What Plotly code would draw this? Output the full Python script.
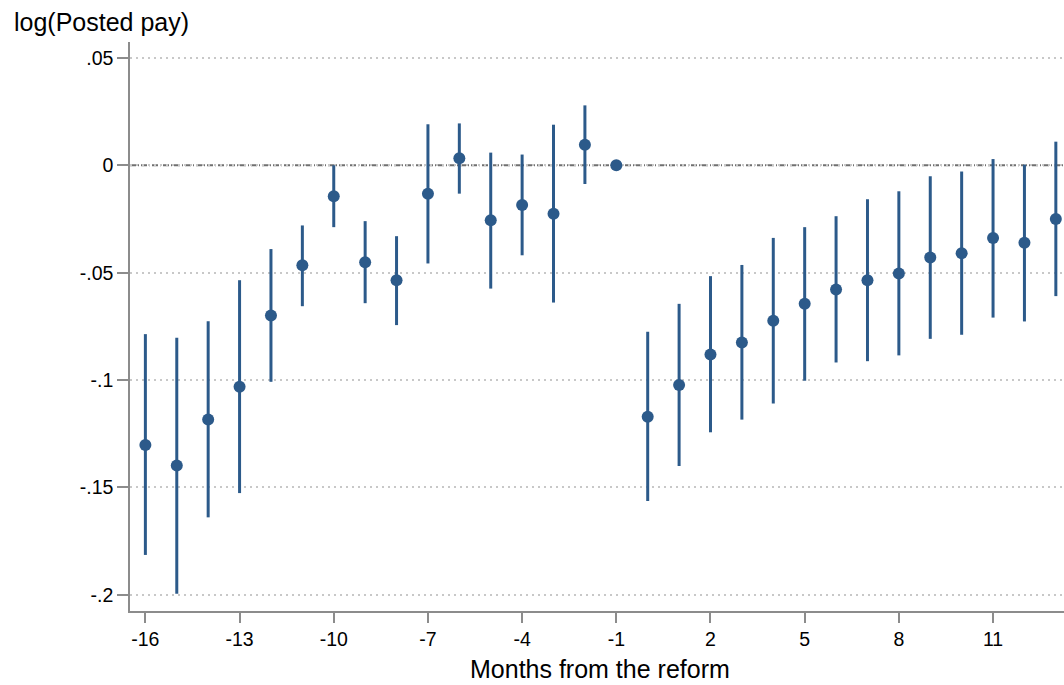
import numpy as np
import plotly.graph_objects as go

# Months relative to the reform
months = list(range(-16, 14))

# Point estimates
coef = [-0.1302, -0.1398, -0.1183, -0.1031, -0.0699, -0.0465, -0.0144, -0.0451,
        -0.0535, -0.0133, 0.0033, -0.0256, -0.0185, -0.0226, 0.0096, 0.0,
        -0.1171, -0.1023, -0.0881, -0.0825, -0.0724, -0.0645, -0.0578, -0.0535,
        -0.0504, -0.0429, -0.0409, -0.0338, -0.0361, -0.0250]

# Confidence interval bounds
ci_low = [-0.1814, -0.1995, -0.1639, -0.1526, -0.1008, -0.0656, -0.0288, -0.0642,
          -0.0744, -0.0457, -0.0132, -0.0574, -0.0419, -0.0639, -0.0087, 0.0,
          -0.1563, -0.1400, -0.1243, -0.1184, -0.1109, -0.1003, -0.0918, -0.0912,
          -0.0885, -0.0808, -0.0789, -0.0709, -0.0727, -0.0609]
ci_high = [-0.0786, -0.0803, -0.0726, -0.0535, -0.0390, -0.0280, 0.0000, -0.0260,
           -0.0330, 0.0191, 0.0195, 0.0059, 0.0050, 0.0189, 0.0279, 0.0,
           -0.0775, -0.0645, -0.0516, -0.0464, -0.0338, -0.0288, -0.0237, -0.0158,
           -0.0121, -0.0051, -0.0029, 0.0029, 0.0003, 0.0110]

x_tickvals = [-16, -13, -10, -7, -4, -1, 2, 5, 8, 11]
x_ticktext = ["-16", "-13", "-10", "-7", "-4", "-1", "2", "5", "8", "11"]
y_tickvals = [0.05, 0, -0.05, -0.1, -0.15, -0.2]
y_ticktext = [".05", "0", "-.05", "-.1", "-.15", "-.2"]

coef_a = np.array(coef)
plus = np.array(ci_high) - coef_a
minus = coef_a - np.array(ci_low)

COL = "#2c5a8a"
AX = "#8c8c8c"
FONT = "Liberation Sans, Arial, Helvetica, sans-serif"

fig = go.Figure()
fig.add_trace(go.Scatter(
    x=months, y=coef, mode="markers",
    marker=dict(color=COL, size=12, line=dict(width=0)),
    error_y=dict(type="data", symmetric=False, array=plus, arrayminus=minus,
                 color=COL, thickness=3, width=0),
    showlegend=False, cliponaxis=True,
))

fig.add_hline(y=0, line=dict(color="#707070", width=2, dash="6px,2px,1px,2px"),
              layer="below")

fig.update_layout(
    width=1064, height=685,
    margin=dict(l=130, r=0, t=42, b=74),
    paper_bgcolor="white", plot_bgcolor="white",
    font=dict(family=FONT, color="black", size=19),
    xaxis=dict(
        range=[-16.49, 13.26], tickvals=x_tickvals, ticktext=x_ticktext,
        showgrid=False, zeroline=False,
        showline=True, linecolor=AX, linewidth=1.5,
        ticks="outside", ticklen=10, tickcolor=AX, tickwidth=1.5,
        tickfont=dict(size=19.5, family=FONT),
    ),
    yaxis=dict(
        range=[-0.2075, 0.0574], tickvals=y_tickvals, ticktext=y_ticktext,
        showgrid=True, gridcolor="#c8c8c8", gridwidth=1.5, griddash="2px,4px",
        zeroline=False,
        showline=True, linecolor=AX, linewidth=1.5,
        ticks="outside", ticklen=11, tickcolor=AX, tickwidth=1.5,
        tickfont=dict(size=19.5, family=FONT), ticklabelstandoff=0,
    ),
    annotations=[
        dict(text="log(Posted pay)", xref="paper", yref="paper",
             x=(12 - 130) / 934, y=(611 - 22) / 569, xanchor="left", yanchor="middle",
             showarrow=False, font=dict(size=25, family=FONT, color="black")),
        dict(text="Months from the reform", xref="paper", yref="paper",
             x=(600 - 130) / 934, y=(611 - 669) / 569, xanchor="center", yanchor="middle",
             showarrow=False, font=dict(size=25, family=FONT, color="black")),
    ],
)

fig.write_html("out.html", config={"displayModeBar": False},
               post_script="document.body.style.margin='0px';document.body.style.overflow='hidden';")
